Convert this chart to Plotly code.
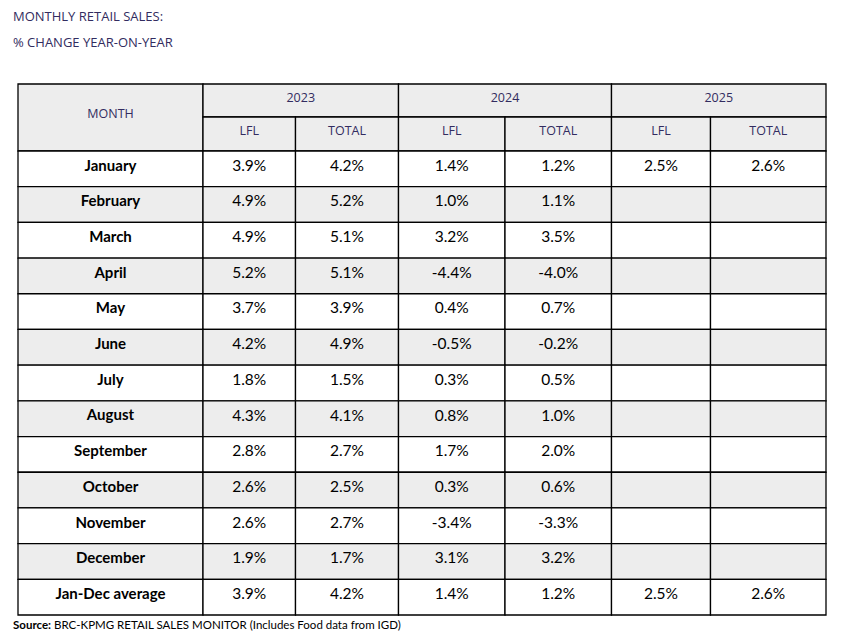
import plotly.graph_objects as go

months = ["January", "February", "March", "April", "May", "June", "July",
          "August", "September", "October", "November", "December", "Jan-Dec average"]
years = ["2023", "2024", "2025"]
measures = ["LFL", "TOTAL"]

lfl_2023 = [3.9, 4.9, 4.9, 5.2, 3.7, 4.2, 1.8, 4.3, 2.8, 2.6, 2.6, 1.9, 3.9]
total_2023 = [4.2, 5.2, 5.1, 5.1, 3.9, 4.9, 1.5, 4.1, 2.7, 2.5, 2.7, 1.7, 4.2]
lfl_2024 = [1.4, 1.0, 3.2, -4.4, 0.4, -0.5, 0.3, 0.8, 1.7, 0.3, -3.4, 3.1, 1.4]
total_2024 = [1.2, 1.1, 3.5, -4.0, 0.7, -0.2, 0.5, 1.0, 2.0, 0.6, -3.3, 3.2, 1.2]
lfl_2025 = [2.5] + [None] * 11 + [2.5]
total_2025 = [2.6] + [None] * 11 + [2.6]

series = [lfl_2023, total_2023, lfl_2024, total_2024, lfl_2025, total_2025]

# layout geometry in window pixels (page body adds an 8px offset, handled by axis ranges)
col_edges = [18, 203, 295.5, 398.5, 505, 611.5, 710.5, 826]
head_top, head_mid, head_bot = 84, 117, 151
row_h = (615 - head_bot) / len(months)
grey = "#ededed"
ink = "#322c60"
line = dict(color="black", width=1.3)
offset = 8
nudge = -2  # text sits a little above cell centre

shapes = []


def rect(x0, y0, x1, y1, fill):
    shapes.append(dict(type="rect", xref="x", yref="y", x0=x0, x1=x1, y0=y0, y1=y1,
                       fillcolor=fill, line=line, layer="below"))


# header
rect(col_edges[0], head_top, col_edges[1], head_bot, grey)
for i in range(len(years)):
    rect(col_edges[1 + 2 * i], head_top, col_edges[3 + 2 * i], head_mid, grey)
    for j in range(2):
        rect(col_edges[1 + 2 * i + j], head_mid, col_edges[2 + 2 * i + j], head_bot, grey)

# body
for r in range(len(months)):
    fill = grey if (r % 2 == 1 and r < 12) else "white"
    y0 = head_bot + r * row_h
    for c in range(len(col_edges) - 1):
        rect(col_edges[c], y0, col_edges[c + 1], y0 + row_h, fill)

fig = go.Figure()

# header text
hx = [(col_edges[0] + col_edges[1]) / 2]
hy = [(head_top + head_bot) / 2 + nudge - 1]
ht = ["MONTH"]
for i, yr in enumerate(years):
    hx.append((col_edges[1 + 2 * i] + col_edges[3 + 2 * i]) / 2)
    hy.append((head_top + head_mid) / 2 + nudge)
    ht.append(yr)
    for j, m in enumerate(measures):
        hx.append((col_edges[1 + 2 * i + j] + col_edges[2 + 2 * i + j]) / 2)
        hy.append((head_mid + head_bot) / 2 + nudge)
        ht.append(m)
fig.add_trace(go.Scatter(x=hx, y=hy, text=ht, mode="text", hoverinfo="skip",
                         textfont=dict(family="Open Sans", size=12.5, color=ink)))

# month labels
row_y = [head_bot + (r + 0.5) * row_h + nudge for r in range(len(months))]
fig.add_trace(go.Scatter(x=[(col_edges[0] + col_edges[1]) / 2] * len(months), y=row_y,
                         text=["<b>" + m + "</b>" for m in months], mode="text", hoverinfo="skip",
                         textfont=dict(family="Lato", size=15, color="black")))

# values
vx, vy, vt = [], [], []
for c, vals in enumerate(series):
    for r, v in enumerate(vals):
        if v is None:
            continue
        vx.append((col_edges[c + 1] + col_edges[c + 2]) / 2)
        vy.append(row_y[r])
        vt.append(f"{v:.1f}%")
fig.add_trace(go.Scatter(x=vx, y=vy, text=vt, mode="text", hoverinfo="skip",
                         textfont=dict(family="Lato", size=15.5, color="black")))

annotations = [
    dict(x=11, y=16, text="MONTHLY RETAIL SALES:", xanchor="left", yanchor="middle"),
    dict(x=11, y=42, text="% CHANGE YEAR-ON-YEAR", xanchor="left", yanchor="middle"),
]
for a in annotations:
    a.update(xref="x", yref="y", showarrow=False, font=dict(family="Open Sans", size=13, color=ink))
annotations.append(dict(x=11, y=624, xref="x", yref="y", showarrow=False, xanchor="left", yanchor="middle",
                        text="<b>Source:</b> BRC-KPMG RETAIL SALES MONITOR (Includes Food data from IGD)",
                        font=dict(family="Lato", size=11.5, color="black")))

fig.update_layout(
    width=847, height=637, margin=dict(l=0, r=0, t=0, b=0),
    paper_bgcolor="white", plot_bgcolor="white", showlegend=False,
    xaxis=dict(range=[offset, 847 + offset], visible=False, fixedrange=True),
    yaxis=dict(range=[637 + offset, offset], visible=False, fixedrange=True),
    shapes=shapes, annotations=annotations,
)

fig.write_html("out.html")
